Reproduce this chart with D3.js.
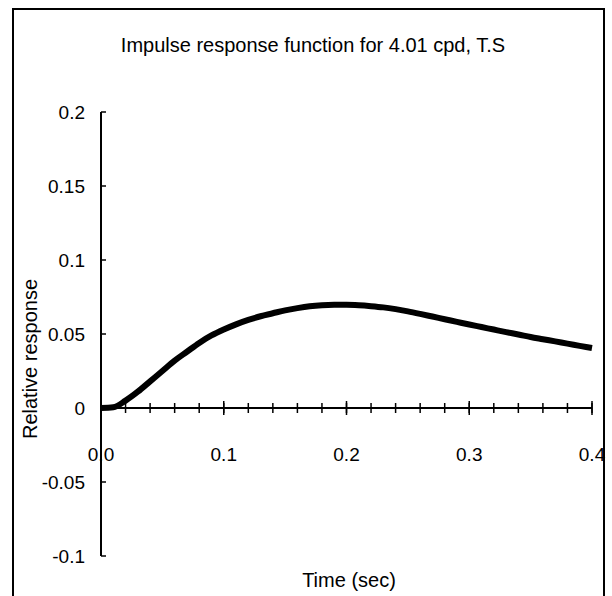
<!DOCTYPE html>
<html>
<head>
<meta charset="utf-8">
<script src="https://cdn.jsdelivr.net/npm/d3@7"></script>
<style>
  body { margin: 0; background: #fff; }
  text { font-family: "Liberation Sans", Arial, sans-serif; fill: #000; }
</style>
</head>
<body>
<svg id="chart"></svg>
<script>
(function () {
    const width = 612, height = 596;

    // impulse response
    const times = [0, 0.01, 0.02, 0.03, 0.04, 0.05, 0.06, 0.07, 0.08, 0.09, 0.10,
        0.11, 0.12, 0.13, 0.14, 0.15, 0.16, 0.17, 0.18, 0.19, 0.20,
        0.21, 0.22, 0.23, 0.24, 0.25, 0.26, 0.27, 0.28, 0.29, 0.30,
        0.31, 0.32, 0.33, 0.34, 0.35, 0.36, 0.37, 0.38, 0.39, 0.40];
    const response = [0, 0.0005, 0.005, 0.011, 0.018, 0.025, 0.032, 0.038, 0.044, 0.049, 0.053,
        0.0565, 0.0595, 0.062, 0.064, 0.066, 0.0675, 0.0687, 0.0694, 0.0697, 0.0697,
        0.0694, 0.0688, 0.068, 0.0668, 0.0653, 0.0636, 0.0618, 0.06, 0.0582, 0.0564,
        0.0547, 0.053, 0.0513, 0.0497, 0.048, 0.0465, 0.045, 0.0435, 0.042, 0.0405];

    const yTicks = [-0.1, -0.05, 0, 0.05, 0.1, 0.15, 0.2];
    const yTickLabels = ["-0.1", "-0.05", "0", "0.05", "0.1", "0.15", "0.2"];
    const xTicks = [0, 0.1, 0.2, 0.3, 0.4];
    const xTickLabels = ["0.0", "0.1", "0.2", "0.3", "0.4"];
    const xMinor = d3.range(0, 21).map(i => i * 0.02);

    const title = "Impulse response function for 4.01 cpd, T.S";
    const xTitle = "Time (sec)";
    const yTitle = "Relative response";

    const svg = d3.select("#chart")
        .attr("width", width)
        .attr("height", height);

    const x = d3.scaleLinear().domain([0, 0.4]).range([101, 592]);
    const y = d3.scaleLinear().domain([-0.1, 0.2]).range([556, 112]);

    svg.append("text")
        .attr("x", 313).attr("y", 52)
        .attr("text-anchor", "middle")
        .style("font-size", "20px")
        .text(title);

    // y axis: line with inside ticks
    svg.append("line")
        .attr("x1", x(0)).attr("x2", x(0))
        .attr("y1", y(-0.1)).attr("y2", y(0.2))
        .attr("stroke", "#000").attr("stroke-width", 2);

    svg.selectAll("line.ytick")
        .data(yTicks)
        .enter()
        .append("line")
        .attr("class", "ytick")
        .attr("x1", x(0)).attr("x2", x(0) + 5)
        .attr("y1", d => y(d)).attr("y2", d => y(d))
        .attr("stroke", "#000").attr("stroke-width", 1.5);

    svg.selectAll("text.ylab")
        .data(yTicks)
        .enter()
        .append("text")
        .attr("class", "ylab")
        .attr("x", 85)
        .attr("y", d => y(d))
        .attr("dy", "0.35em")
        .attr("text-anchor", "end")
        .style("font-size", "19px")
        .text((d, i) => yTickLabels[i]);

    // x axis at zero, ticks crossing the line
    svg.append("line")
        .attr("x1", x(0)).attr("x2", x(0.4))
        .attr("y1", y(0)).attr("y2", y(0))
        .attr("stroke", "#000").attr("stroke-width", 2);

    svg.selectAll("line.xminor")
        .data(xMinor)
        .enter()
        .append("line")
        .attr("class", "xminor")
        .attr("x1", d => x(d)).attr("x2", d => x(d))
        .attr("y1", y(0) - 5).attr("y2", y(0) + 5)
        .attr("stroke", "#000").attr("stroke-width", 1.5);

    svg.selectAll("line.xmajor")
        .data(xTicks)
        .enter()
        .append("line")
        .attr("class", "xmajor")
        .attr("x1", d => x(d)).attr("x2", d => x(d))
        .attr("y1", y(0) - 7).attr("y2", y(0) + 7)
        .attr("stroke", "#000").attr("stroke-width", 1.5);

    svg.selectAll("text.xlab")
        .data(xTicks)
        .enter()
        .append("text")
        .attr("class", "xlab")
        .attr("x", d => x(d))
        .attr("y", 461)
        .attr("text-anchor", "middle")
        .style("font-size", "19px")
        .text((d, i) => xTickLabels[i]);

    const line = d3.line()
        .x((d, i) => x(times[i]))
        .y(d => y(d))
        .curve(d3.curveMonotoneX);

    svg.append("path")
        .datum(response)
        .attr("d", line)
        .attr("fill", "none")
        .attr("stroke", "#000")
        .attr("stroke-width", 6);

    svg.append("text")
        .attr("x", 349).attr("y", 587)
        .attr("text-anchor", "middle")
        .style("font-size", "20px")
        .text(xTitle);

    svg.append("text")
        .attr("transform", "translate(37,359) rotate(-90)")
        .attr("text-anchor", "middle")
        .style("font-size", "20px")
        .text(yTitle);

    // outer frame, bottom edge runs off the picture
    svg.append("rect")
        .attr("x", 13).attr("y", 9)
        .attr("width", 591).attr("height", 600)
        .attr("fill", "none")
        .attr("stroke", "#000").attr("stroke-width", 2);
})();
</script>
</body>
</html>
